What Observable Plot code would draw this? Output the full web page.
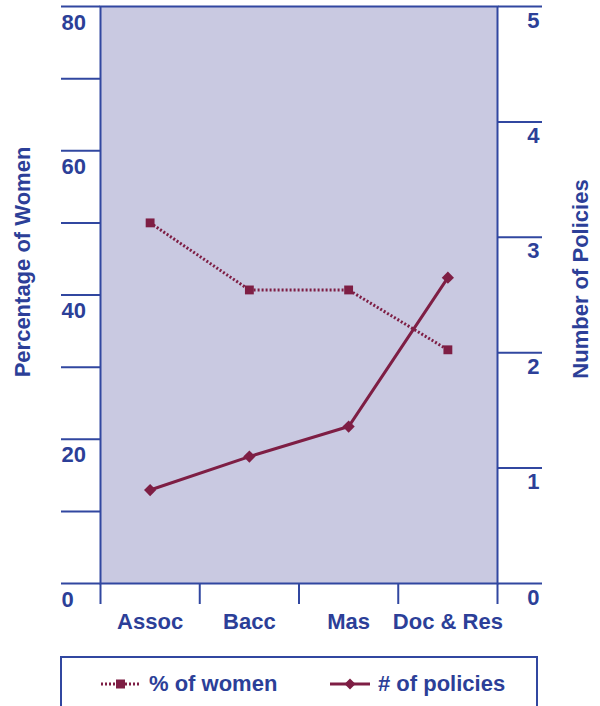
<!DOCTYPE html>
<html>
<head>
<meta charset="utf-8">
<script src="https://cdn.jsdelivr.net/npm/d3@7"></script>
<script src="https://cdn.jsdelivr.net/npm/@observablehq/plot@0.6"></script>
<style>
  body { margin: 0; background: #fff; font-family: "Liberation Sans", Arial, sans-serif; }
  #chart svg { display: block; }
  #legend {
    position: absolute; left: 60px; top: 656px; width: 478px; height: 60px;
    border: 2px solid #3147a0; border-bottom: none; box-sizing: border-box; background: #fff;
  }
  .item { position: absolute; top: 13px; display: flex; align-items: center;
    font: bold 22px "Liberation Sans", Arial, sans-serif; color: #2c3f98; }
  .item svg { margin-right: 7px; }
</style>
</head>
<body>
<div id="chart"></div>
<div id="legend">
  <div class="item" style="left:38px">
    <svg width="42" height="14"><line x1="1" x2="41" y1="7" y2="7" stroke="#7e1e44" stroke-width="3" stroke-dasharray="2,2"/><rect x="16" y="2.5" width="9" height="9" fill="#7e1e44"/></svg>
    <span>% of women</span>
  </div>
  <div class="item" style="left:267px">
    <svg width="42" height="14"><line x1="1" x2="41" y1="7" y2="7" stroke="#7e1e44" stroke-width="3"/><path d="M21,1.5 L26.5,7 L21,12.5 L15.5,7 Z" fill="#7e1e44"/></svg>
    <span># of policies</span>
  </div>
</div>
<script>
const categories = ["Assoc", "Bacc", "Mas", "Doc & Res"];
const pctWomen = [50.0, 40.7, 40.7, 32.4];
const numPolicies = [0.81, 1.10, 1.36, 2.65];
const leftTicks = [0, 10, 20, 30, 40, 50, 60, 70, 80];
const leftLabels = [0, 20, 40, 60, 80];
const rightTicks = [0, 1, 2, 3, 4, 5];

const blue = "#3147a0";
const textBlue = "#2c3f98";
const maroon = "#7e1e44";
const fs = 22;

// scale factor to put right axis (0–5) on the left scale (0–80)
const k = 80 / 5;
const rows = categories.map((c, i) => ({cat: c, pos: i + 0.5, women: pctWomen[i], policies: numPolicies[i]}));

const chart = Plot.plot({
  width: 600,
  height: 640,
  marginTop: 6,
  marginBottom: 57,
  marginLeft: 100,
  marginRight: 103,
  style: {fontFamily: "'Liberation Sans', Arial, sans-serif", fontWeight: "bold", fontSize: "22px", color: textBlue, background: "transparent"},
  x: {domain: [0, categories.length], axis: null},
  y: {domain: [0, 80], axis: null},
  marks: [
    Plot.frame({fill: "#c9c9e1", stroke: blue, strokeWidth: 2}),
    // left axis ticks
    Plot.axisY({ticks: leftTicks, anchor: "left", tickSize: 39, tickFormat: () => "", label: null, stroke: blue, strokeWidth: 2}),
    Plot.text(leftLabels, {y: d => d, frameAnchor: "left", dx: -39, dy: 16, textAnchor: "start", lineAnchor: "middle", text: d => String(d), fill: textBlue, fontSize: fs, fontWeight: "bold"}),
    // right axis ticks
    Plot.axisY({ticks: rightTicks.map(d => d * k), anchor: "right", tickSize: 44, tickFormat: () => "", label: null, stroke: blue, strokeWidth: 2}),
    Plot.text(rightTicks, {y: d => d * k, frameAnchor: "right", dx: 42, dy: 14, textAnchor: "end", lineAnchor: "middle", text: d => String(d), fill: textBlue, fontSize: fs, fontWeight: "bold"}),
    // bottom axis ticks at category boundaries
    Plot.axisX({ticks: d3.range(0, categories.length + 1), anchor: "bottom", tickSize: 21, tickFormat: () => "", label: null, stroke: blue, strokeWidth: 2}),
    Plot.text(rows, {x: "pos", frameAnchor: "bottom", dy: 38, lineAnchor: "middle", text: "cat", fill: textBlue, fontSize: fs, fontWeight: "bold"}),
    // axis titles
    Plot.text(["Percentage of Women"], {frameAnchor: "left", dx: -78, dy: -33, rotate: -90, textAnchor: "middle", lineAnchor: "middle", fill: textBlue, fontSize: fs, fontWeight: "bold"}),
    Plot.text(["Number of Policies"], {frameAnchor: "right", dx: 83, dy: -16, rotate: -90, textAnchor: "middle", lineAnchor: "middle", fill: textBlue, fontSize: fs, fontWeight: "bold"}),
    // series
    Plot.line(rows, {x: "pos", y: "women", stroke: maroon, strokeWidth: 3, strokeDasharray: "2,2", strokeLinecap: "butt"}),
    Plot.dot(rows, {x: "pos", y: "women", symbol: "square", r: 5, fill: maroon}),
    Plot.line(rows, {x: "pos", y: d => d.policies * k, stroke: maroon, strokeWidth: 3}),
    Plot.dot(rows, {x: "pos", y: d => d.policies * k, symbol: "diamond2", r: 5.5, fill: maroon})
  ]
});
document.getElementById("chart").appendChild(chart);
</script>
</body>
</html>
